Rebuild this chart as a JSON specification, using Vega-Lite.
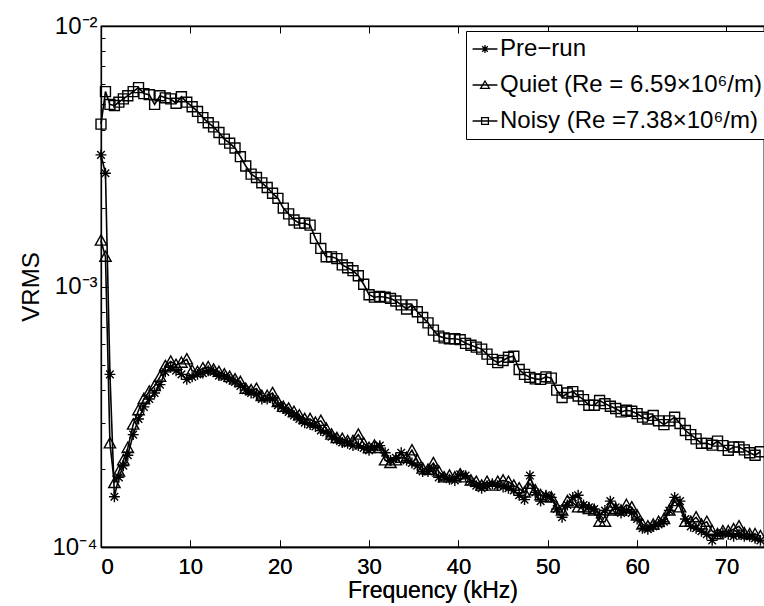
{
"$schema":"https://vega.github.io/schema/vega-lite/v6.json",
"width":663,"height":521,
"autosize":{"type":"none"},
"padding":{"left":101,"top":26,"right":0,"bottom":59},
"config":{"view":{"stroke":"black","strokeWidth":1.3},"font":"Liberation Sans",
"axis":{"grid":false,"domainColor":"black","domainWidth":1.3,"tickColor":"black","tickWidth":1,"labelColor":"black","labelFontSize":24,"titleColor":"black","titleFontSize":24,"titleFontWeight":"normal","labelFont":"Liberation Sans","titleFont":"Liberation Sans"}},
"data":{"values":[
{"s":"N","x":0,"y":0.0042},{"s":"N","x":0.5,"y":0.0056},{"s":"N","x":1,"y":0.005},{"s":"N","x":1.5,"y":0.00495},{"s":"N","x":2,"y":0.0051},{"s":"N","x":2.5,"y":0.00525},{"s":"N","x":3,"y":0.0054},{"s":"N","x":3.6,"y":0.0056},{"s":"N","x":4.2,"y":0.0058},{"s":"N","x":4.8,"y":0.0055},{"s":"N","x":5.4,"y":0.00545},{"s":"N","x":6,"y":0.005},{"s":"N","x":6.6,"y":0.0054},{"s":"N","x":7.2,"y":0.0053},{"s":"N","x":7.8,"y":0.00525},{"s":"N","x":8.4,"y":0.00505},{"s":"N","x":9,"y":0.00535},{"s":"N","x":9.6,"y":0.0051},{"s":"N","x":10.2,"y":0.0049},{"s":"N","x":10.8,"y":0.0047},{"s":"N","x":11.4,"y":0.00445},{"s":"N","x":12,"y":0.00425},{"s":"N","x":12.6,"y":0.0041},{"s":"N","x":13.2,"y":0.0039},{"s":"N","x":13.8,"y":0.00368},{"s":"N","x":14.4,"y":0.00355},{"s":"N","x":15,"y":0.0034},{"s":"N","x":15.6,"y":0.00315},{"s":"N","x":16.2,"y":0.0029},{"s":"N","x":16.8,"y":0.0027},{"s":"N","x":17.4,"y":0.00262},{"s":"N","x":18,"y":0.0025},{"s":"N","x":18.6,"y":0.0024},{"s":"N","x":19.2,"y":0.00228},{"s":"N","x":19.8,"y":0.00218},{"s":"N","x":20.4,"y":0.002},{"s":"N","x":21,"y":0.0019},{"s":"N","x":21.6,"y":0.0018},{"s":"N","x":22.2,"y":0.00175},{"s":"N","x":22.8,"y":0.00175},{"s":"N","x":23.4,"y":0.00172},{"s":"N","x":24,"y":0.00153},{"s":"N","x":24.6,"y":0.0014},{"s":"N","x":25.2,"y":0.0013},{"s":"N","x":25.8,"y":0.0013},{"s":"N","x":26.4,"y":0.00128},{"s":"N","x":27,"y":0.00121},{"s":"N","x":27.6,"y":0.00118},{"s":"N","x":28.2,"y":0.00115},{"s":"N","x":28.8,"y":0.0011},{"s":"N","x":29.4,"y":0.00102},{"s":"N","x":30,"y":0.00093},{"s":"N","x":30.6,"y":0.00091},{"s":"N","x":31.2,"y":0.000915},{"s":"N","x":31.8,"y":0.00091},{"s":"N","x":32.4,"y":0.0009},{"s":"N","x":33,"y":0.00088},{"s":"N","x":33.6,"y":0.00085},{"s":"N","x":34.2,"y":0.00082},{"s":"N","x":34.8,"y":0.00085},{"s":"N","x":35.4,"y":0.0008},{"s":"N","x":36,"y":0.00076},{"s":"N","x":36.6,"y":0.000725},{"s":"N","x":37.2,"y":0.00068},{"s":"N","x":37.8,"y":0.000645},{"s":"N","x":38.4,"y":0.000635},{"s":"N","x":39,"y":0.00063},{"s":"N","x":39.6,"y":0.00063},{"s":"N","x":40.2,"y":0.000625},{"s":"N","x":40.8,"y":0.000605},{"s":"N","x":41.4,"y":0.000595},{"s":"N","x":42,"y":0.000585},{"s":"N","x":42.6,"y":0.000575},{"s":"N","x":43.2,"y":0.00055},{"s":"N","x":43.8,"y":0.000525},{"s":"N","x":44.4,"y":0.00051},{"s":"N","x":45,"y":0.00052},{"s":"N","x":45.6,"y":0.000535},{"s":"N","x":46.2,"y":0.00054},{"s":"N","x":46.8,"y":0.00048},{"s":"N","x":47.4,"y":0.00046},{"s":"N","x":48,"y":0.000448},{"s":"N","x":48.6,"y":0.000442},{"s":"N","x":49.2,"y":0.00044},{"s":"N","x":49.8,"y":0.00045},{"s":"N","x":50.4,"y":0.000445},{"s":"N","x":51,"y":0.0004},{"s":"N","x":51.6,"y":0.000375},{"s":"N","x":52.2,"y":0.00039},{"s":"N","x":52.8,"y":0.000395},{"s":"N","x":53.4,"y":0.00038},{"s":"N","x":54,"y":0.000368},{"s":"N","x":54.6,"y":0.00035},{"s":"N","x":55.2,"y":0.00035},{"s":"N","x":55.8,"y":0.000365},{"s":"N","x":56.4,"y":0.000355},{"s":"N","x":57,"y":0.000347},{"s":"N","x":57.6,"y":0.00034},{"s":"N","x":58.2,"y":0.00033},{"s":"N","x":58.8,"y":0.000335},{"s":"N","x":59.4,"y":0.000332},{"s":"N","x":60,"y":0.000325},{"s":"N","x":60.6,"y":0.000315},{"s":"N","x":61.2,"y":0.00031},{"s":"N","x":61.8,"y":0.00032},{"s":"N","x":62.4,"y":0.000305},{"s":"N","x":63,"y":0.000295},{"s":"N","x":63.6,"y":0.000305},{"s":"N","x":64.2,"y":0.000315},{"s":"N","x":64.8,"y":0.000298},{"s":"N","x":65.4,"y":0.00028},{"s":"N","x":66,"y":0.00027},{"s":"N","x":66.6,"y":0.00026},{"s":"N","x":67.2,"y":0.00025},{"s":"N","x":67.8,"y":0.00025},{"s":"N","x":68.4,"y":0.000246},{"s":"N","x":69,"y":0.000255},{"s":"N","x":69.6,"y":0.000245},{"s":"N","x":70.2,"y":0.000235},{"s":"N","x":70.8,"y":0.000242},{"s":"N","x":71.4,"y":0.000242},{"s":"N","x":72,"y":0.000236},{"s":"N","x":72.6,"y":0.00023},{"s":"N","x":73.2,"y":0.000225},{"s":"N","x":73.8,"y":0.000232},
{"s":"Q","x":0,"y":0.0015},{"s":"Q","x":0.5,"y":0.0013},{"s":"Q","x":1,"y":0.00025},{"s":"Q","x":1.5,"y":0.000176},{"s":"Q","x":2,"y":0.000195},{"s":"Q","x":2.5,"y":0.000215},{"s":"Q","x":3,"y":0.00024},{"s":"Q","x":3.6,"y":0.000295},{"s":"Q","x":4.2,"y":0.000335},{"s":"Q","x":4.8,"y":0.00037},{"s":"Q","x":5.4,"y":0.000395},{"s":"Q","x":6,"y":0.000415},{"s":"Q","x":6.6,"y":0.00045},{"s":"Q","x":7.2,"y":0.000495},{"s":"Q","x":7.8,"y":0.000515},{"s":"Q","x":8.4,"y":0.0005},{"s":"Q","x":9,"y":0.00051},{"s":"Q","x":9.6,"y":0.000525},{"s":"Q","x":10.2,"y":0.000475},{"s":"Q","x":10.8,"y":0.00047},{"s":"Q","x":11.4,"y":0.000485},{"s":"Q","x":12,"y":0.00049},{"s":"Q","x":12.6,"y":0.00048},{"s":"Q","x":13.2,"y":0.00047},{"s":"Q","x":13.8,"y":0.00046},{"s":"Q","x":14.4,"y":0.00045},{"s":"Q","x":15,"y":0.00044},{"s":"Q","x":15.6,"y":0.00043},{"s":"Q","x":16.2,"y":0.000405},{"s":"Q","x":16.8,"y":0.0004},{"s":"Q","x":17.4,"y":0.000405},{"s":"Q","x":18,"y":0.00038},{"s":"Q","x":18.6,"y":0.00038},{"s":"Q","x":19.2,"y":0.00039},{"s":"Q","x":19.8,"y":0.00036},{"s":"Q","x":20.4,"y":0.000345},{"s":"Q","x":21,"y":0.00034},{"s":"Q","x":21.6,"y":0.00033},{"s":"Q","x":22.2,"y":0.00032},{"s":"Q","x":22.8,"y":0.00031},{"s":"Q","x":23.4,"y":0.00031},{"s":"Q","x":24,"y":0.0003},{"s":"Q","x":24.6,"y":0.000305},{"s":"Q","x":25.2,"y":0.000285},{"s":"Q","x":25.8,"y":0.00027},{"s":"Q","x":26.4,"y":0.000262},{"s":"Q","x":27,"y":0.00026},{"s":"Q","x":27.6,"y":0.000255},{"s":"Q","x":28.2,"y":0.000255},{"s":"Q","x":28.8,"y":0.00027},{"s":"Q","x":29.4,"y":0.00025},{"s":"Q","x":30,"y":0.00024},{"s":"Q","x":30.6,"y":0.000245},{"s":"Q","x":31.2,"y":0.00024},{"s":"Q","x":31.8,"y":0.000215},{"s":"Q","x":32.4,"y":0.00021},{"s":"Q","x":33,"y":0.000215},{"s":"Q","x":33.6,"y":0.00022},{"s":"Q","x":34.2,"y":0.00022},{"s":"Q","x":34.8,"y":0.000235},{"s":"Q","x":35.4,"y":0.000215},{"s":"Q","x":36,"y":0.0002},{"s":"Q","x":36.6,"y":0.000198},{"s":"Q","x":37.2,"y":0.00021},{"s":"Q","x":37.8,"y":0.000195},{"s":"Q","x":38.4,"y":0.000185},{"s":"Q","x":39,"y":0.000188},{"s":"Q","x":39.6,"y":0.000185},{"s":"Q","x":40.2,"y":0.00019},{"s":"Q","x":40.8,"y":0.000185},{"s":"Q","x":41.4,"y":0.00018},{"s":"Q","x":42,"y":0.000178},{"s":"Q","x":42.6,"y":0.000172},{"s":"Q","x":43.2,"y":0.000178},{"s":"Q","x":43.8,"y":0.000172},{"s":"Q","x":44.4,"y":0.000178},{"s":"Q","x":45,"y":0.00018},{"s":"Q","x":45.6,"y":0.000178},{"s":"Q","x":46.2,"y":0.000172},{"s":"Q","x":46.8,"y":0.000168},{"s":"Q","x":47.4,"y":0.000162},{"s":"Q","x":48,"y":0.000175},{"s":"Q","x":48.6,"y":0.000165},{"s":"Q","x":49.2,"y":0.000158},{"s":"Q","x":49.8,"y":0.000155},{"s":"Q","x":50.4,"y":0.000155},{"s":"Q","x":51,"y":0.000142},{"s":"Q","x":51.6,"y":0.000138},{"s":"Q","x":52.2,"y":0.00015},{"s":"Q","x":52.8,"y":0.000148},{"s":"Q","x":53.4,"y":0.000142},{"s":"Q","x":54,"y":0.000142},{"s":"Q","x":54.6,"y":0.00014},{"s":"Q","x":55.2,"y":0.000138},{"s":"Q","x":55.8,"y":0.000125},{"s":"Q","x":56.4,"y":0.000125},{"s":"Q","x":57,"y":0.000138},{"s":"Q","x":57.6,"y":0.00014},{"s":"Q","x":58.2,"y":0.000138},{"s":"Q","x":58.8,"y":0.000145},{"s":"Q","x":59.4,"y":0.000142},{"s":"Q","x":60,"y":0.000132},{"s":"Q","x":60.6,"y":0.000122},{"s":"Q","x":61.2,"y":0.00012},{"s":"Q","x":61.8,"y":0.000122},{"s":"Q","x":62.4,"y":0.000125},{"s":"Q","x":63,"y":0.000128},{"s":"Q","x":63.6,"y":0.000138},{"s":"Q","x":64.2,"y":0.00015},{"s":"Q","x":64.8,"y":0.000142},{"s":"Q","x":65.4,"y":0.000125},{"s":"Q","x":66,"y":0.000125},{"s":"Q","x":66.6,"y":0.00013},{"s":"Q","x":67.2,"y":0.000122},{"s":"Q","x":67.8,"y":0.000125},{"s":"Q","x":68.4,"y":0.000115},{"s":"Q","x":69,"y":0.000112},{"s":"Q","x":69.6,"y":0.000115},{"s":"Q","x":70.2,"y":0.000115},{"s":"Q","x":70.8,"y":0.000117},{"s":"Q","x":71.4,"y":0.00012},{"s":"Q","x":72,"y":0.000113},{"s":"Q","x":72.6,"y":0.000112},{"s":"Q","x":73.2,"y":0.000112},{"s":"Q","x":73.8,"y":0.00011},
{"s":"P","x":0,"y":0.0032},{"s":"P","x":0.5,"y":0.00272},{"s":"P","x":1,"y":0.00046},{"s":"P","x":1.5,"y":0.000156},{"s":"P","x":2,"y":0.000185},{"s":"P","x":2.5,"y":0.000205},{"s":"P","x":3,"y":0.000225},{"s":"P","x":3.6,"y":0.00027},{"s":"P","x":4.2,"y":0.00031},{"s":"P","x":4.8,"y":0.000345},{"s":"P","x":5.4,"y":0.00037},{"s":"P","x":6,"y":0.00039},{"s":"P","x":6.6,"y":0.00042},{"s":"P","x":7.2,"y":0.00047},{"s":"P","x":7.8,"y":0.00049},{"s":"P","x":8.4,"y":0.000475},{"s":"P","x":9,"y":0.00046},{"s":"P","x":9.6,"y":0.00044},{"s":"P","x":10.2,"y":0.00045},{"s":"P","x":10.8,"y":0.00046},{"s":"P","x":11.4,"y":0.000465},{"s":"P","x":12,"y":0.000475},{"s":"P","x":12.6,"y":0.00047},{"s":"P","x":13.2,"y":0.000455},{"s":"P","x":13.8,"y":0.00045},{"s":"P","x":14.4,"y":0.00044},{"s":"P","x":15,"y":0.00043},{"s":"P","x":15.6,"y":0.000415},{"s":"P","x":16.2,"y":0.0004},{"s":"P","x":16.8,"y":0.00039},{"s":"P","x":17.4,"y":0.000385},{"s":"P","x":18,"y":0.00037},{"s":"P","x":18.6,"y":0.00037},{"s":"P","x":19.2,"y":0.00037},{"s":"P","x":19.8,"y":0.00035},{"s":"P","x":20.4,"y":0.00034},{"s":"P","x":21,"y":0.00033},{"s":"P","x":21.6,"y":0.00032},{"s":"P","x":22.2,"y":0.00031},{"s":"P","x":22.8,"y":0.0003},{"s":"P","x":23.4,"y":0.000295},{"s":"P","x":24,"y":0.00029},{"s":"P","x":24.6,"y":0.00028},{"s":"P","x":25.2,"y":0.000275},{"s":"P","x":25.8,"y":0.000265},{"s":"P","x":26.4,"y":0.000258},{"s":"P","x":27,"y":0.000252},{"s":"P","x":27.6,"y":0.00025},{"s":"P","x":28.2,"y":0.000245},{"s":"P","x":28.8,"y":0.000245},{"s":"P","x":29.4,"y":0.00024},{"s":"P","x":30,"y":0.000235},{"s":"P","x":30.6,"y":0.000242},{"s":"P","x":31.2,"y":0.000245},{"s":"P","x":31.8,"y":0.00023},{"s":"P","x":32.4,"y":0.000215},{"s":"P","x":33,"y":0.00022},{"s":"P","x":33.6,"y":0.00023},{"s":"P","x":34.2,"y":0.000215},{"s":"P","x":34.8,"y":0.00021},{"s":"P","x":35.4,"y":0.000205},{"s":"P","x":36,"y":0.000195},{"s":"P","x":36.6,"y":0.000195},{"s":"P","x":37.2,"y":0.0002},{"s":"P","x":37.8,"y":0.000185},{"s":"P","x":38.4,"y":0.000185},{"s":"P","x":39,"y":0.000182},{"s":"P","x":39.6,"y":0.00018},{"s":"P","x":40.2,"y":0.00019},{"s":"P","x":40.8,"y":0.000188},{"s":"P","x":41.4,"y":0.000178},{"s":"P","x":42,"y":0.000172},{"s":"P","x":42.6,"y":0.000168},{"s":"P","x":43.2,"y":0.000172},{"s":"P","x":43.8,"y":0.000175},{"s":"P","x":44.4,"y":0.000172},{"s":"P","x":45,"y":0.00017},{"s":"P","x":45.6,"y":0.000168},{"s":"P","x":46.2,"y":0.000165},{"s":"P","x":46.8,"y":0.000158},{"s":"P","x":47.4,"y":0.000152},{"s":"P","x":48,"y":0.000188},{"s":"P","x":48.6,"y":0.000162},{"s":"P","x":49.2,"y":0.00015},{"s":"P","x":49.8,"y":0.000158},{"s":"P","x":50.4,"y":0.000155},{"s":"P","x":51,"y":0.00014},{"s":"P","x":51.6,"y":0.00013},{"s":"P","x":52.2,"y":0.000145},{"s":"P","x":52.8,"y":0.000155},{"s":"P","x":53.4,"y":0.000158},{"s":"P","x":54,"y":0.000145},{"s":"P","x":54.6,"y":0.000142},{"s":"P","x":55.2,"y":0.00014},{"s":"P","x":55.8,"y":0.000133},{"s":"P","x":56.4,"y":0.000138},{"s":"P","x":57,"y":0.00015},{"s":"P","x":57.6,"y":0.000142},{"s":"P","x":58.2,"y":0.000135},{"s":"P","x":58.8,"y":0.000138},{"s":"P","x":59.4,"y":0.000135},{"s":"P","x":60,"y":0.000128},{"s":"P","x":60.6,"y":0.000118},{"s":"P","x":61.2,"y":0.000117},{"s":"P","x":61.8,"y":0.00012},{"s":"P","x":62.4,"y":0.000122},{"s":"P","x":63,"y":0.000125},{"s":"P","x":63.6,"y":0.000138},{"s":"P","x":64.2,"y":0.000155},{"s":"P","x":64.8,"y":0.00015},{"s":"P","x":65.4,"y":0.000128},{"s":"P","x":66,"y":0.00012},{"s":"P","x":66.6,"y":0.000118},{"s":"P","x":67.2,"y":0.000115},{"s":"P","x":67.8,"y":0.000112},{"s":"P","x":68.4,"y":0.000106},{"s":"P","x":69,"y":0.000112},{"s":"P","x":69.6,"y":0.000113},{"s":"P","x":70.2,"y":0.000112},{"s":"P","x":70.8,"y":0.00011},{"s":"P","x":71.4,"y":0.000112},{"s":"P","x":72,"y":0.00011},{"s":"P","x":72.6,"y":0.00011},{"s":"P","x":73.2,"y":0.000108},{"s":"P","x":73.8,"y":0.000106}
]},
"encoding":{
"x":{"field":"x","type":"quantitative","scale":{"domain":[0,74.2],"nice":false,"zero":false},
"axis":{"orient":"bottom","values":[0,10,20,30,40,50,60,70],"tickSize":-7,"labelPadding":16,"labelFontSize":22,"title":"Frequency (kHz)","titlePadding":2,"titleFontSize":23,"format":"d"}},
"y":{"field":"y","type":"quantitative","scale":{"type":"log","domain":[0.0001,0.01],"nice":false},
"axis":{"values":[0.0001,0.0002,0.0003,0.0004,0.0005,0.0006,0.0007,0.0008,0.0009,0.001,0.002,0.003,0.004,0.005,0.006,0.007,0.008,0.009,0.01],
"labelExpr":"datum.value==0.01?'10⁻²':datum.value==0.001?'10⁻³':datum.value==0.0001?'10⁻⁴':''",
"tickSize":{"condition":{"test":"datum.value==0.01||datum.value==0.001||datum.value==0.0001","value":-7},"value":-4},
"labelPadding":11,"title":"VRMS","titlePadding":8}}
},
"layer":[
{"mark":{"type":"line","color":"black","strokeWidth":1.6,"clip":false},"encoding":{"detail":{"field":"s"}}},
{"mark":{"type":"point","filled":false,"color":"black","strokeWidth":1.4,"size":90,"opacity":1,"clip":false},
"encoding":{"shape":{"field":"s","type":"nominal","scale":{"domain":["P","Q","N"],"range":["M-1.15,0L1.15,0M0,-1.15L0,1.15M-0.8,-0.8L0.8,0.8M-0.8,0.8L0.8,-0.8","M0,-1.2L1.2,0.95L-1.2,0.95Z","M-1.05,-1.05L1.05,-1.05L1.05,1.05L-1.05,1.05Z"]},"legend":null}}},
{"transform":[{"filter":"datum.x > 1000"}],
"mark":{"type":"point","filled":false,"color":"black","strokeWidth":1.3,"size":64,"opacity":1},
"encoding":{
"x":{"field":"x","type":"quantitative","axis":{"orient":"top","labels":false,"title":null,"values":[0,10,20,30,40,50,60,70],"tickSize":-7}},
"shape":{"field":"s","type":"nominal","scale":{"domain":["P","Q","N"],"range":["M-3.1,0L3.1,0M-1,0L1,0M0,-1L0,1M-0.7,-0.7L0.7,0.7M-0.7,0.7L0.7,-0.7","M-3.1,0L3.1,0M0,-1L1.1,0.85L-1.1,0.85Z","M-3.1,0L3.1,0M-0.85,-0.85L0.85,-0.85L0.85,0.85L-0.85,0.85Z"]},
"legend":{"orient":"none","legendX":365,"legendY":5,"title":null,"strokeColor":"black","fillColor":"white","padding":6,"labelFontSize":24,"labelColor":"black","labelFont":"Liberation Sans","labelLimit":500,"symbolSize":64,"symbolStrokeWidth":1.3,"symbolStrokeColor":"black","symbolOffset":1,"labelOffset":3,"rowPadding":12,
"labelExpr":"datum.label=='P'?'Pre−run':datum.label=='Q'?'Quiet (Re = 6.59×10⁶/m)':'Noisy (Re =7.38×10⁶/m)'"}}}}
],
"resolve":{"scale":{"shape":"independent"},"axis":{"x":"independent"}}
}
